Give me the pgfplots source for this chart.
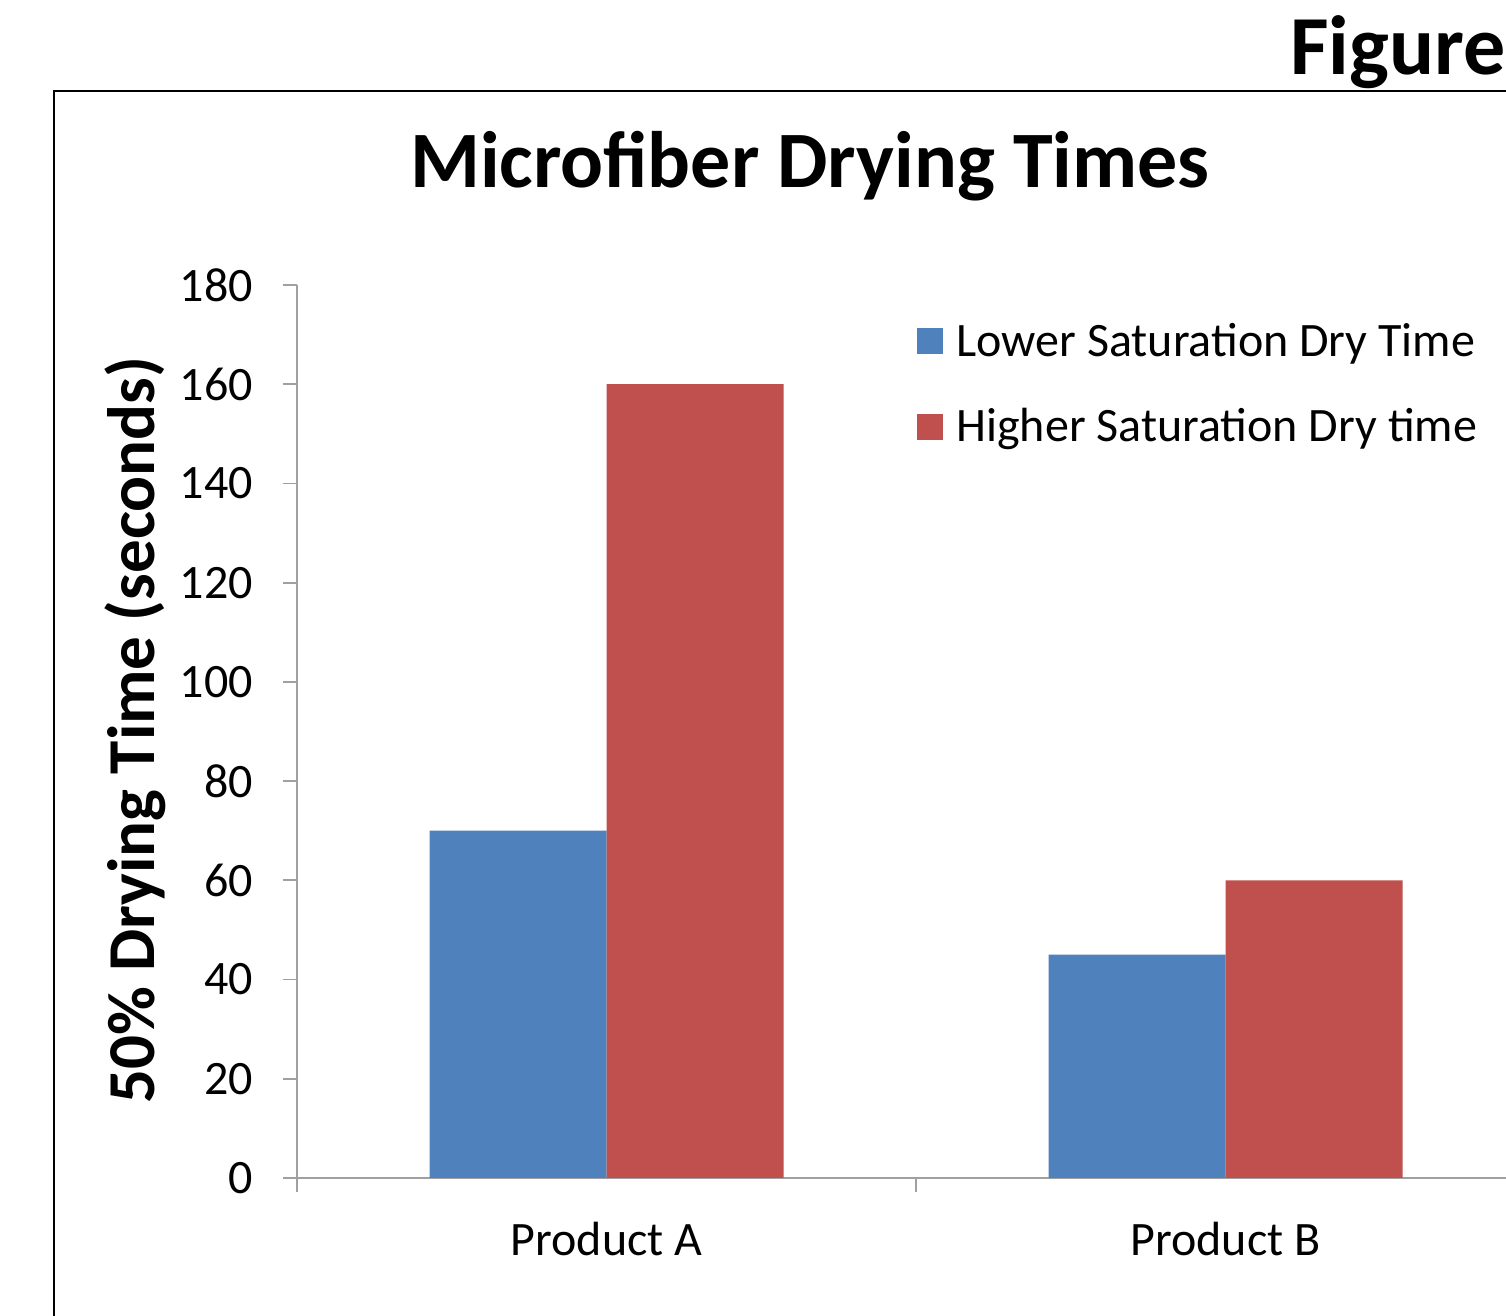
\documentclass[border=0pt]{standalone}
\usepackage{pgfplots}
\pgfplotsset{compat=1.18}
\usepackage{fontspec}
\setmainfont{Carlito}
\definecolor{barblue}{RGB}{79,129,189}
\definecolor{barred}{RGB}{192,80,77}
\definecolor{axgray}{RGB}{160,160,160}
\begin{document}
\begin{tikzpicture}[x=0.5pt,y=0.5pt]
\useasboundingbox (0,0) rectangle (1506,1316);
\clip (0,0) rectangle (1506,1316);
\fill[white] (0,0) rectangle (1506,1316);
\draw[black,line width=1.3pt] (54,-100) -- (54,1225) -- (1600,1225);
\begin{axis}[
  at={(148.5pt,69pt)}, anchor=south west,
  scale only axis, width=619pt, height=446.5pt,
  xmin=-0.5, xmax=1.5, ymin=0, ymax=180,
  ybar=0pt, bar width=88.5pt,
  axis x line=bottom, axis y line=left,
  axis line style={-, axgray, line width=0.9pt},
  every tick/.style={axgray, line width=0.9pt},
  tick align=outside,
  major tick length=7pt,
  ytick={0,20,...,180},
  xtick={-0.5,0.5,1.5}, xticklabels={},
  extra x ticks={0,1}, extra x tick labels={Product A, Product B},
  extra x tick style={major tick length=0pt, xticklabel style={yshift=-18.5pt}},
  clip=false,
  /pgf/number format/assume math mode=true,
  ticklabel style={font=\fontsize{24}{29}\selectfont, black},
  yticklabel style={xshift=-11.5pt},
  legend image code/.code={\fill[#1,draw=none] (0pt,-6.5pt) rectangle (13pt,6.5pt);},
  legend style={draw=none, fill=none, font=\fontsize{24}{29}\selectfont,
    at={(rel axis cs:0.496,0.9664)}, anchor=north west, row sep=20.5pt,
    /tikz/every odd column/.append style={column sep=4.5pt}},
  legend cell align=left,
]
\addplot[fill=barblue, draw=none] coordinates {(0,70) (1,45)};
\addlegendentry{Lower Saturation Dry Time}
\addplot[fill=barred, draw=none] coordinates {(0,160) (1,60)};
\addlegendentry{Higher Saturation Dry time}
\end{axis}
\node[anchor=base, font=\fontsize{40}{48}\selectfont\bfseries] at (810,1128) {Microfiber Drying Times};
\node[anchor=base west, font=\fontsize{42}{50}\selectfont\bfseries] at (1283,1241) {Figure};
\node[rotate=90, anchor=base, font=\fontsize{33.5}{40}\selectfont\bfseries] at (154,586) {50\% Drying Time (seconds)};
\end{tikzpicture}
\end{document}
